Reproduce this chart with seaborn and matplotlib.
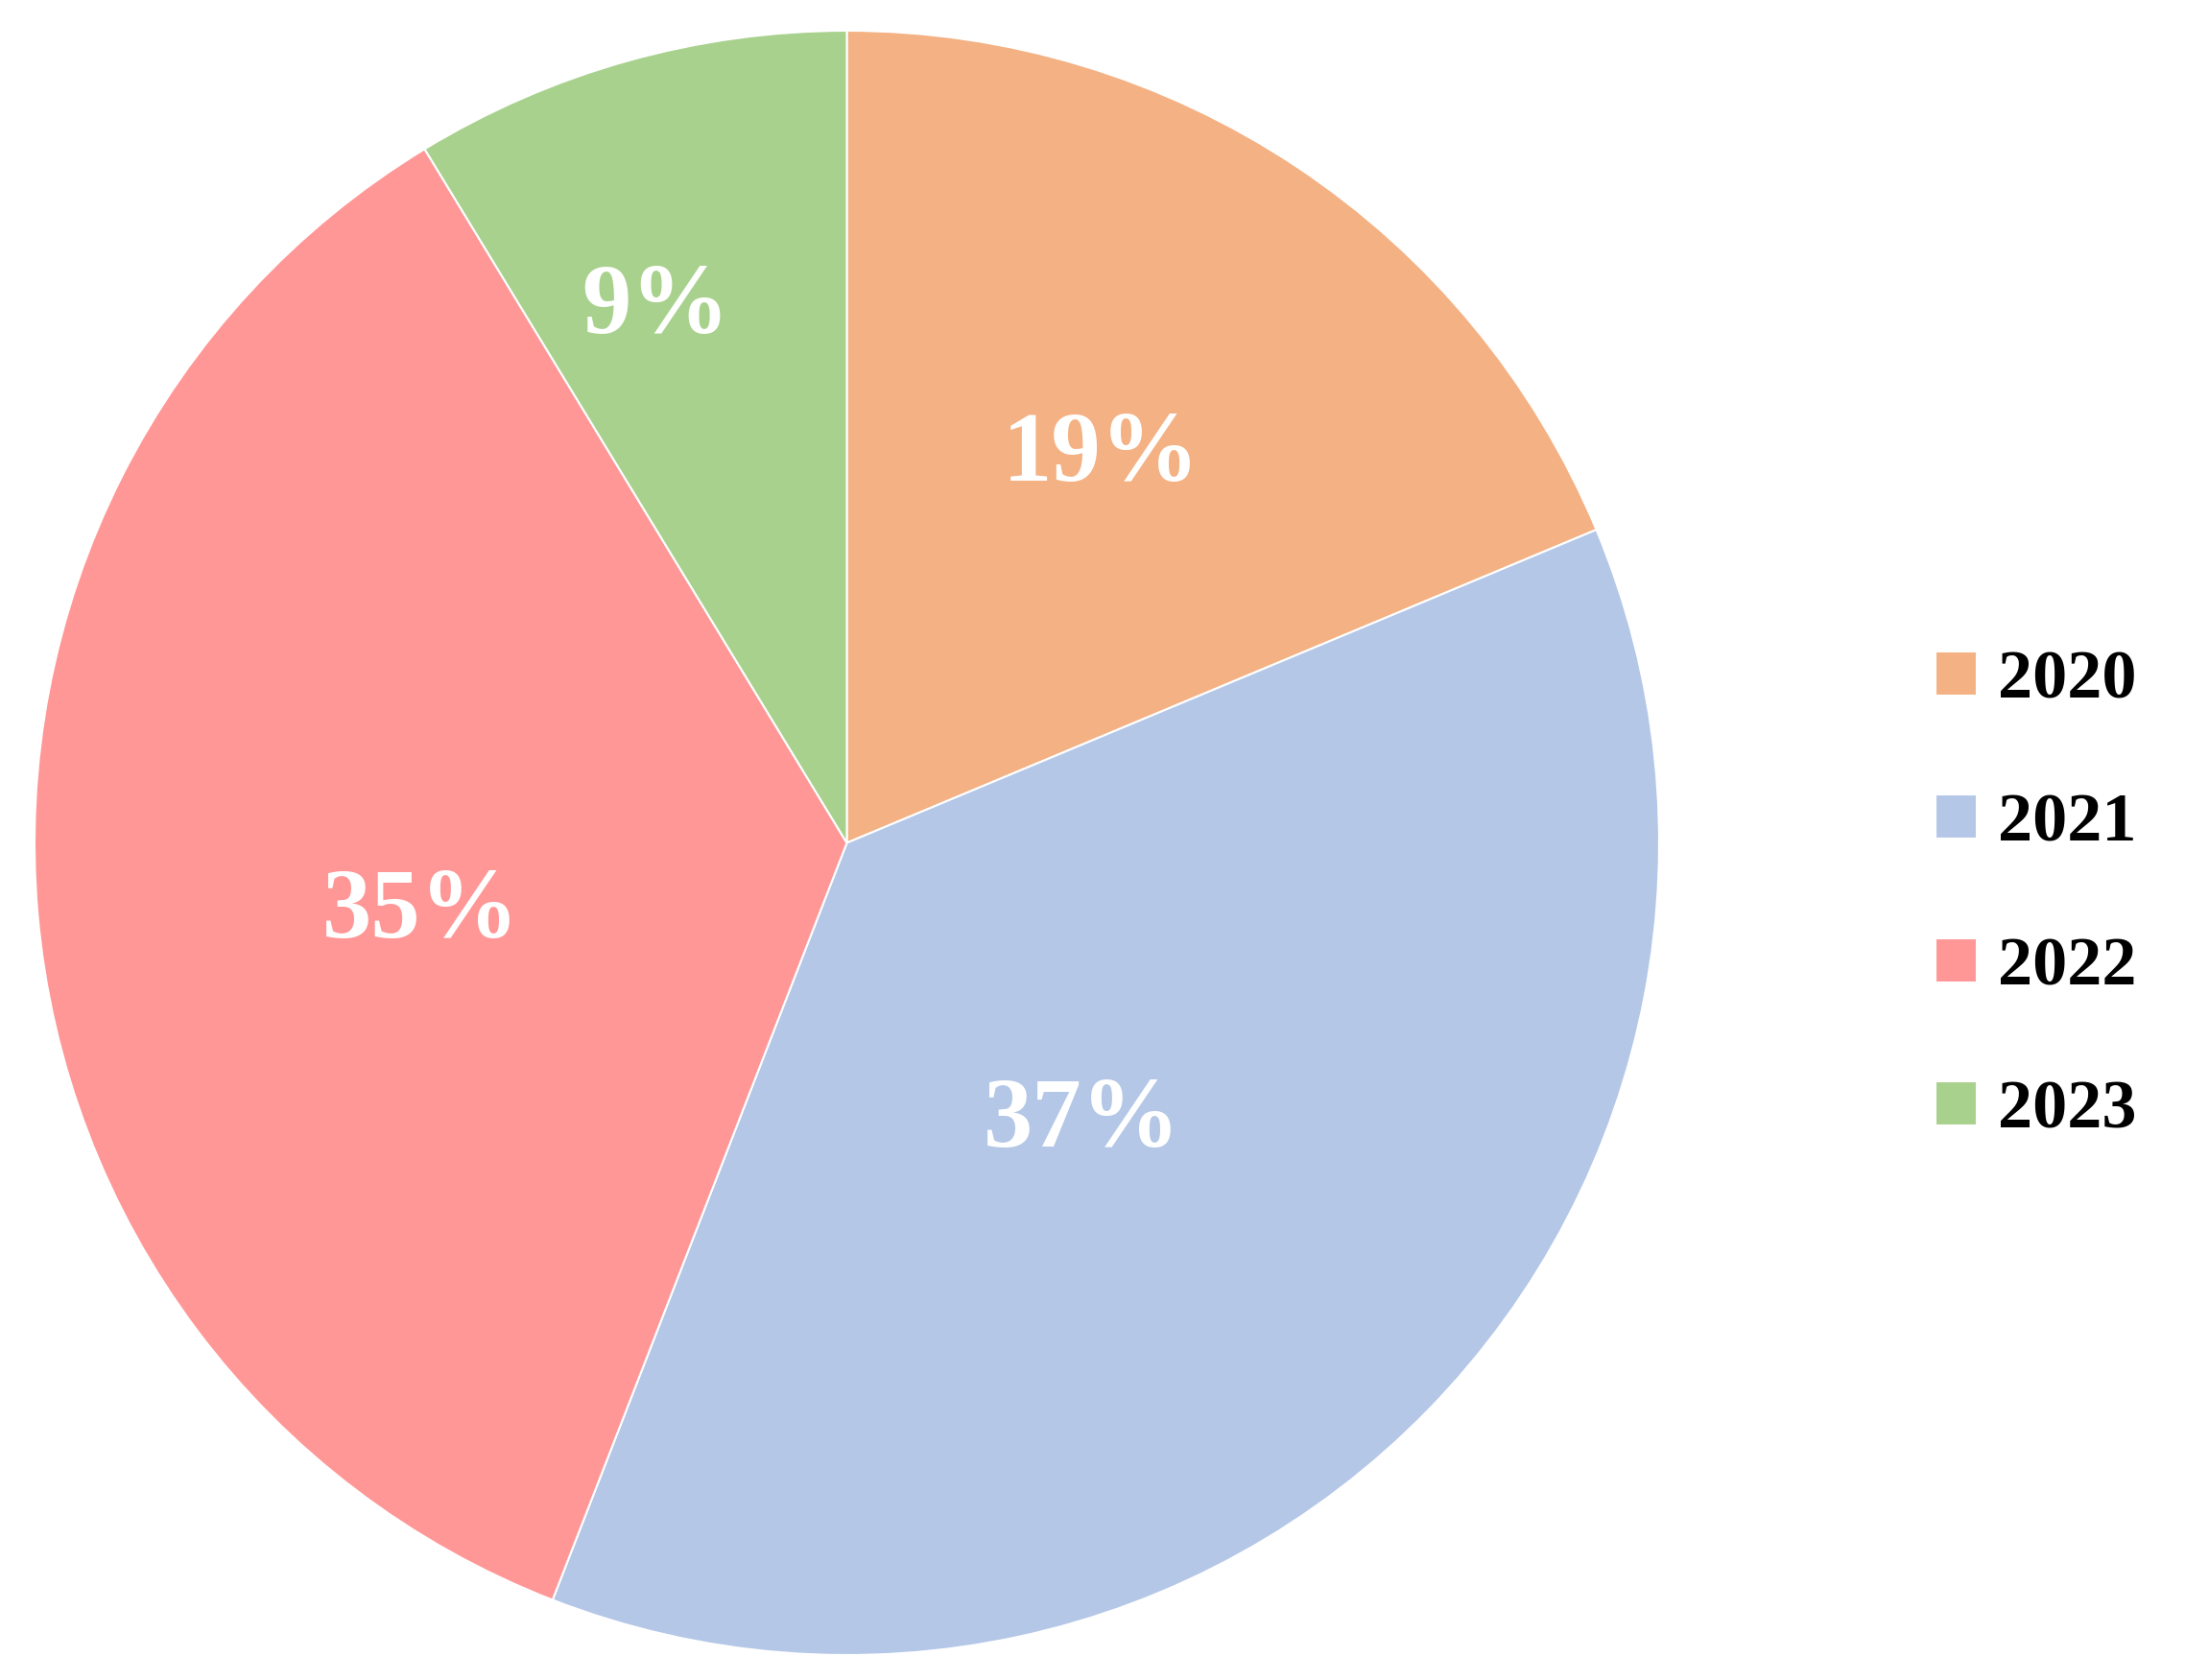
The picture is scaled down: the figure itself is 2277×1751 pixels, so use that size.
import matplotlib.pyplot as plt
import seaborn as sns
import numpy as np

years = ['2020', '2021', '2022', '2023']
shares = [18.7, 37.2, 35.4, 8.7]
pct_labels = ['19%', '37%', '35%', '9%']
colors = ['#F4B183', '#B4C7E7', '#FF9797', '#A9D18E']
label_dist = [0.58, 0.44, 0.53, 0.71]
label_turn = [1.0, -4.6, 3.0, 3.7]

sns.set_theme(style="white")
plt.rcParams['font.family'] = ['Liberation Serif', 'DejaVu Serif']

W, H = 2277, 1751
fig = plt.figure(figsize=(W / 100, H / 100), dpi=100)
ax = fig.add_axes([36 / W, 1 - 1725 / H, (1729 - 36) / W, (1725 - 32) / H])

wedges, _ = ax.pie(shares, colors=colors, startangle=90, counterclock=False,
                   wedgeprops=dict(edgecolor='white', linewidth=1.5))
ax.set_xlim(-1, 1)
ax.set_ylim(-1, 1)
ax.set_aspect('equal')
ax.axis('off')

for w, lab, d, t in zip(wedges, pct_labels, label_dist, label_turn):
    ang = np.deg2rad((w.theta1 + w.theta2) / 2 + t)
    ax.text(d * np.cos(ang), d * np.sin(ang), lab, ha='center', va='center_baseline',
            color='white', fontsize=74, fontweight='bold')

leg = fig.legend(wedges, years, loc='center left', bbox_to_anchor=(2017 / W, 1 - 934 / H),
                 frameon=False, handlelength=0.6, handleheight=0.6,
                 handletextpad=0.3, labelspacing=1.17, borderpad=0, borderaxespad=0,
                 prop=dict(weight='bold', size=52))
for txt in leg.get_texts():
    txt.set_color('black')

fig.savefig('out.png', dpi=100)
